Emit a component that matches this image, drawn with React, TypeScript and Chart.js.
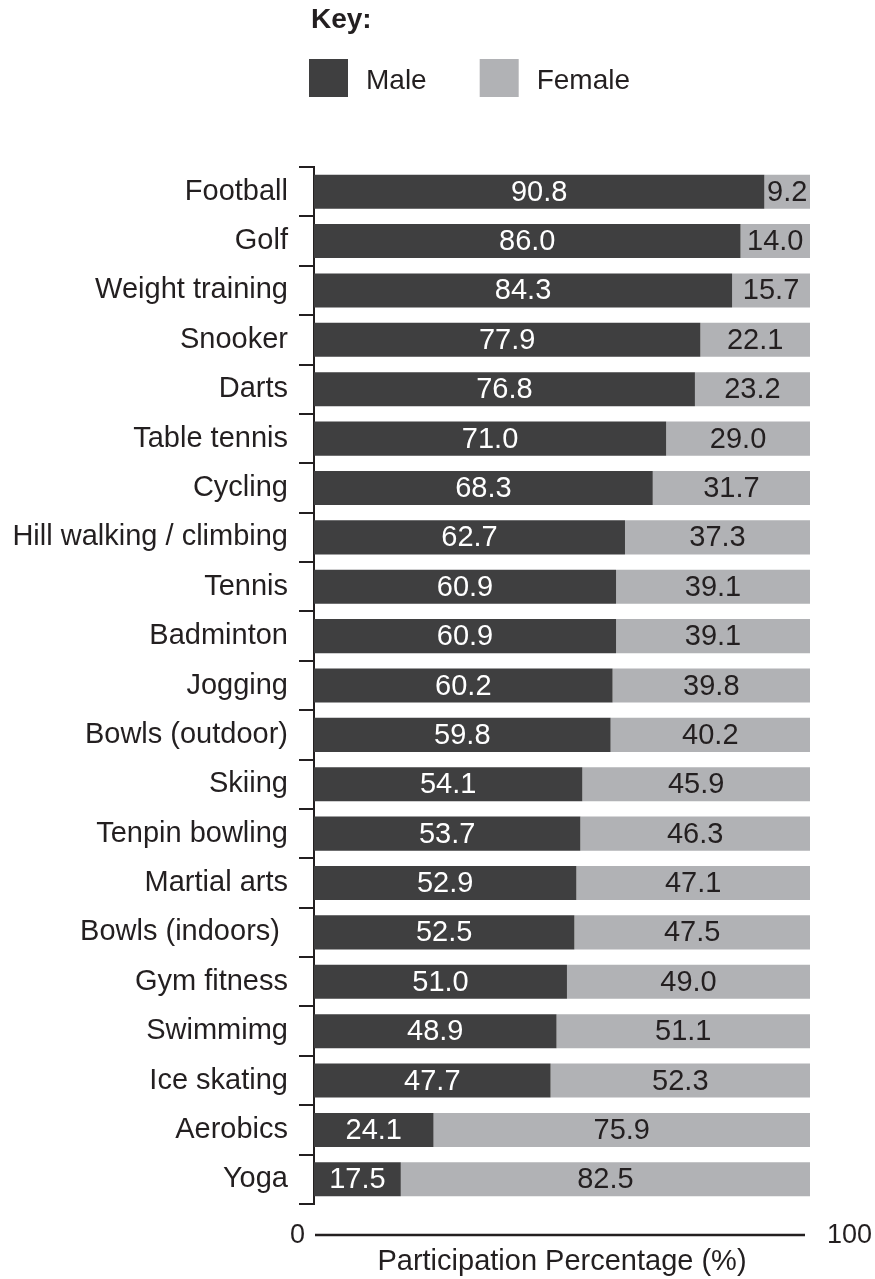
import React, { useEffect, useRef } from 'react';
import { Chart, registerables } from 'chart.js';

Chart.register(...registerables);

const categories = [
  'Football',
  'Golf',
  'Weight training',
  'Snooker',
  'Darts',
  'Table tennis',
  'Cycling',
  'Hill walking / climbing',
  'Tennis',
  'Badminton',
  'Jogging',
  'Bowls (outdoor)',
  'Skiing',
  'Tenpin bowling',
  'Martial arts',
  'Bowls (indoors) ',
  'Gym fitness',
  'Swimmimg',
  'Ice skating',
  'Aerobics',
  'Yoga',
];
const maleValues = [90.8, 86.0, 84.3, 77.9, 76.8, 71.0, 68.3, 62.7, 60.9, 60.9, 60.2, 59.8, 54.1, 53.7, 52.9, 52.5, 51.0, 48.9, 47.7, 24.1, 17.5];
const femaleValues = [9.2, 14.0, 15.7, 22.1, 23.2, 29.0, 31.7, 37.3, 39.1, 39.1, 39.8, 40.2, 45.9, 46.3, 47.1, 47.5, 49.0, 51.1, 52.3, 75.9, 82.5];
const seriesNames = ['Male', 'Female'];
const axisMin = 0;
const axisMax = 100;
const axisEndLabels = ['0', '100'];
const xAxisTitle = 'Participation Percentage (%)';
const legendTitle = 'Key:';

const FONT = '"Liberation Sans", Arial, Helvetica, sans-serif';
const TEXT = '#231f20';
const MALE_COLOR = '#3f3f40';
const FEMALE_COLOR = '#b1b2b5';

const decorPlugin = {
  id: 'decor',
  afterDatasetsDraw(chart: any) {
    const ctx = chart.ctx;
    ctx.save();
    ctx.font = `29px ${FONT}`;
    ctx.textAlign = 'center';
    ctx.textBaseline = 'middle';
    chart.data.datasets.forEach((ds: any, di: number) => {
      const meta = chart.getDatasetMeta(di);
      meta.data.forEach((bar: any, i: number) => {
        const v = ds.data[i] as number;
        const { x, base, y } = bar.getProps(['x', 'base', 'y'], true);
        ctx.fillStyle = di === 0 ? '#ffffff' : TEXT;
        ctx.fillText(v.toFixed(1), (x + base) / 2, y + 1);
      });
    });
    ctx.restore();
  },
  afterDraw(chart: any) {
    const ctx = chart.ctx;
    const xs = chart.scales.x;
    const area = chart.chartArea;
    ctx.save();
    // separate x-axis line with end labels
    const ly = area.bottom + 31;
    const x0 = xs.getPixelForValue(axisMin);
    const x1 = xs.getPixelForValue(axisMax);
    ctx.strokeStyle = TEXT;
    ctx.lineWidth = 2.5;
    ctx.beginPath();
    ctx.moveTo(x0 + 1, ly);
    ctx.lineTo(x1 - 5, ly);
    ctx.stroke();
    ctx.fillStyle = TEXT;
    ctx.font = `27px ${FONT}`;
    ctx.textBaseline = 'middle';
    ctx.textAlign = 'right';
    ctx.fillText(axisEndLabels[0], x0 - 9, ly + 1);
    ctx.textAlign = 'left';
    ctx.fillText(axisEndLabels[1], x1 + 17, ly + 1);

    // legend ("Key")
    ctx.font = `bold 28px ${FONT}`;
    ctx.textAlign = 'left';
    ctx.fillText(legendTitle, 311, 20);
    ctx.font = `28px ${FONT}`;
    let lx = 309;
    chart.data.datasets.forEach((ds: any) => {
      ctx.fillStyle = ds.backgroundColor;
      ctx.fillRect(lx, 59, 39, 38);
      ctx.fillStyle = TEXT;
      const tx = lx + 39 + 18;
      ctx.fillText(ds.label, tx, 81);
      lx = tx + ctx.measureText(ds.label).width + 53;
    });
    ctx.restore();
  },
};

export default function App() {
  const canvasRef = useRef<HTMLCanvasElement | null>(null);

  useEffect(() => {
    if (!canvasRef.current) return;
    const chart = new Chart(canvasRef.current, {
      type: 'bar',
      data: {
        labels: categories,
        datasets: [
          {
            label: seriesNames[0],
            data: maleValues,
            backgroundColor: MALE_COLOR,
            borderWidth: 0,
            barPercentage: 0.69,
            categoryPercentage: 1,
          },
          {
            label: seriesNames[1],
            data: femaleValues,
            backgroundColor: FEMALE_COLOR,
            borderWidth: 0,
            barPercentage: 0.69,
            categoryPercentage: 1,
          },
        ],
      },
      options: {
        indexAxis: 'y',
        responsive: false,
        animation: false,
        devicePixelRatio: 1,
        layout: { padding: { top: 167, right: 65, left: 0, bottom: 0 } },
        plugins: {
          legend: { display: false },
          tooltip: { enabled: false },
        },
        scales: {
          x: {
            stacked: true,
            min: axisMin,
            max: axisMax,
            grid: { display: false },
            border: { display: false },
            ticks: { display: false },
            title: {
              display: true,
              text: xAxisTitle,
              color: TEXT,
              font: { family: FONT, size: 29 },
              padding: { top: 0, bottom: 0 },
            },
            afterFit: (scale: any) => {
              scale.height = 75;
            },
          },
          y: {
            stacked: true,
            grid: {
              display: true,
              drawOnChartArea: false,
              drawTicks: true,
              tickLength: 15,
              offset: true,
              lineWidth: 2,
              color: (c: any) => (c.index >= categories.length ? 'rgba(0,0,0,0)' : TEXT),
            },
            border: { display: true, color: TEXT, width: 2 },
            ticks: {
              color: TEXT,
              padding: 11,
              font: { family: FONT, size: 29 },
              autoSkip: false,
            },
            afterFit: (scale: any) => {
              scale.width = 314;
            },
          },
        },
      },
      plugins: [decorPlugin],
    });
    return () => chart.destroy();
  }, []);

  return (
    <div style={{ position: 'absolute', left: 0, top: 0, width: 875, height: 1279, background: '#ffffff' }}>
      <canvas ref={canvasRef} width={875} height={1279} style={{ display: 'block' }} />
    </div>
  );
}
